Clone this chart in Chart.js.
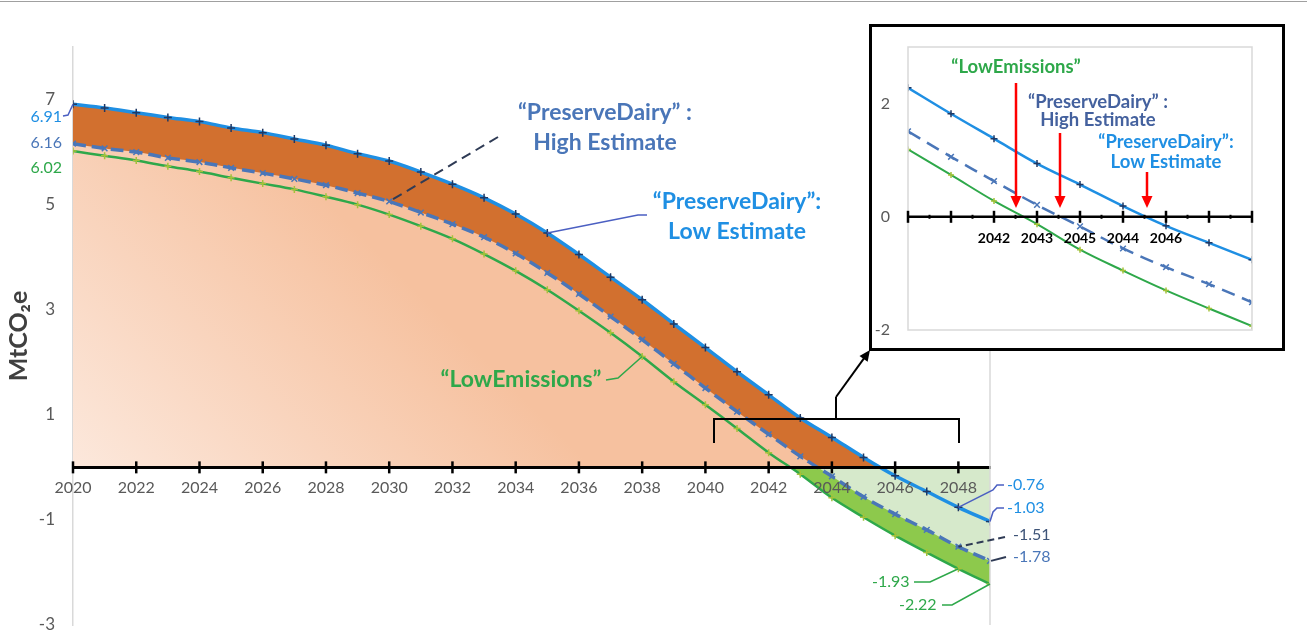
<!DOCTYPE html>
<html>
<head>
<meta charset="utf-8">
<script src="https://cdn.jsdelivr.net/npm/chart.js@4"></script>
<style>
  body { margin: 0; background: #fff; }
  #wrap { position: relative; width: 1307px; height: 644px; overflow: hidden; }
  #main { position: absolute; left: 0; top: 0; }
  #topline { position: absolute; left: 0; top: 1px; width: 1307px; height: 1px; background: #a0a0a0; }
  #insetBox { position: absolute; left: 869px; top: 24px; width: 410px; height: 321px; border: 3px solid #000; background: #fff; }
  #inset { display: block; }
</style>
</head>
<body>
<div id="wrap">
  <canvas id="main" width="1307" height="644"></canvas>
  <div id="topline"></div>
  <div id="insetBox"><canvas id="inset" width="410" height="321"></canvas></div>
</div>
<script>
// years on the x axis
const years = [2020, 2021, 2022, 2023, 2024, 2025, 2026, 2027, 2028, 2029,
               2030, 2031, 2032, 2033, 2034, 2035, 2036, 2037, 2038, 2039,
               2040, 2041, 2042, 2043, 2044, 2045, 2046, 2047, 2048, 2049];
// "PreserveDairy": Low Estimate (top, solid light blue)
const lowEstimate = [6.91, 6.84, 6.75, 6.66, 6.58, 6.46, 6.37, 6.25, 6.13, 5.97,
                     5.83, 5.62, 5.39, 5.13, 4.82, 4.46, 4.05, 3.62, 3.19, 2.73,
                     2.28, 1.82, 1.38, 0.94, 0.57, 0.19, -0.16, -0.46, -0.76, -1.03];
// "PreserveDairy" : High Estimate (middle, dashed)
const highEstimate = [6.16, 6.07, 6.00, 5.89, 5.81, 5.70, 5.60, 5.49, 5.37, 5.22,
                      5.06, 4.85, 4.63, 4.38, 4.07, 3.70, 3.30, 2.87, 2.43, 1.97,
                      1.51, 1.06, 0.63, 0.21, -0.17, -0.56, -0.89, -1.19, -1.51, -1.78];
// "LowEmissions" (bottom, green)
const lowEmissions = [6.02, 5.93, 5.84, 5.73, 5.63, 5.51, 5.40, 5.29, 5.15, 5.00,
                      4.81, 4.59, 4.35, 4.06, 3.74, 3.38, 2.98, 2.56, 2.11, 1.63,
                      1.19, 0.74, 0.28, -0.13, -0.58, -0.95, -1.30, -1.62, -1.93, -2.22];

const xTicks = [2020, 2022, 2024, 2026, 2028, 2030, 2032, 2034, 2036, 2038, 2040, 2042, 2044, 2046, 2048];
const yTicks = [-3, -1, 1, 3, 5, 7];

// inset (zoom on 2040-2048)
const insetFrom = 2040, insetTo = 2048;
const insetXTicks = [2040, 2041, 2042, 2043, 2044, 2045, 2046, 2047, 2048];
const insetXLabels = ['', '', '2042', '2043', '2045', '2044', '2046', '', ''];
const insetYTicks = [-2, 0, 2];

const FONT = 'Lato, "Open Sans", "Liberation Sans", sans-serif';
const skyBlue = '#1f8fe3';
const steel = '#4a76b8';
const green = '#2ea84a';
const darkOrange = '#d2702f';
const lightGreen = '#d6e9cb';
const brightGreen = '#8dc94c';
const leaderBlue = '#4b5fc2';

function pairs(xs, ys) {
  return xs.map((x, i) => ({ x: x, y: ys[i] }));
}

function slice(ys) {
  const out = [];
  years.forEach((yr, i) => { if (yr >= insetFrom && yr <= insetTo) out.push({ x: yr, y: ys[i] }); });
  return out;
}

function polyline(ctx, pts, color, width, dash) {
  ctx.save();
  ctx.strokeStyle = color;
  ctx.lineWidth = width;
  ctx.setLineDash(dash || []);
  ctx.beginPath();
  pts.forEach((p, i) => i ? ctx.lineTo(p[0], p[1]) : ctx.moveTo(p[0], p[1]));
  ctx.stroke();
  ctx.restore();
}

function arrow(ctx, x1, y1, x2, y2, color, width, head, half) {
  const ang = Math.atan2(y2 - y1, x2 - x1);
  polyline(ctx, [[x1, y1], [x2 - Math.cos(ang) * head * 0.8, y2 - Math.sin(ang) * head * 0.8]], color, width);
  ctx.save();
  ctx.fillStyle = color;
  ctx.beginPath();
  ctx.moveTo(x2, y2);
  ctx.lineTo(x2 - head * Math.cos(ang) + half * Math.sin(ang), y2 - head * Math.sin(ang) - half * Math.cos(ang));
  ctx.lineTo(x2 - head * Math.cos(ang) - half * Math.sin(ang), y2 - head * Math.sin(ang) + half * Math.cos(ang));
  ctx.closePath();
  ctx.fill();
  ctx.restore();
}

function text(ctx, str, x, y, color, size, bold, align) {
  ctx.save();
  ctx.fillStyle = color;
  ctx.font = (bold ? '700 ' : '400 ') + size + 'px ' + FONT;
  ctx.textAlign = align || 'center';
  ctx.textBaseline = 'middle';
  ctx.fillText(str, x, y);
  ctx.restore();
}

// peach gradient under the curves
function peach(context) {
  const chart = context.chart;
  const area = chart.chartArea;
  if (!area) return '#f6c5a5';
  const y0 = chart.scales.y.getPixelForValue(0);
  const g = chart.ctx.createLinearGradient(area.left, y0, area.left + 260, y0 - 260);
  g.addColorStop(0, '#fce8dc');
  g.addColorStop(1, '#f6c19f');
  return g;
}

// no extra room for the edge tick labels
function noEdgePadding(s) {
  s.paddingTop = 0;
  s.paddingBottom = 0;
  s.paddingLeft = 0;
  s.paddingRight = 0;
}

const mainDecor = {
  id: 'mainDecor',
  afterDraw(chart) {
    const { ctx, chartArea: a, scales: { x, y } } = chart;
    const px = v => x.getPixelForValue(v);
    const py = v => y.getPixelForValue(v);
    const y0 = py(0);

    // right frame line
    polyline(ctx, [[a.right, a.top], [a.right, a.bottom]], '#d9d9d9', 1.5);
    // tick marks crossing the zero axis
    xTicks.forEach(t => polyline(ctx, [[px(t), y0 - 6], [px(t), y0 + 6]], '#000', 2.5));

    // end values, left side
    text(ctx, '6.91', 62, 117, skyBlue, 16, false, 'right');
    polyline(ctx, [[63, 116], [68, 115], [px(2020), py(lowEstimate[0])]], leaderBlue, 1.5);
    text(ctx, '6.16', 62, 143, steel, 16, false, 'right');
    text(ctx, '6.02', 62, 168, green, 16, false, 'right');

    // end values, right side
    const n = years.length - 1;
    text(ctx, '-0.76', 1007, 485, skyBlue, 16, false, 'left');
    polyline(ctx, [[1004, 485], [997, 485], [993, 490], [px(2048), py(lowEstimate[n - 1])]], leaderBlue, 1.5);
    text(ctx, '-1.03', 1007, 508, skyBlue, 16, false, 'left');
    polyline(ctx, [[1004, 508], [997, 508], [993, 512], [px(2049), py(lowEstimate[n])]], leaderBlue, 1.5);
    text(ctx, '-1.51', 1013, 535, '#3e5478', 16, false, 'left');
    polyline(ctx, [[1005, 537], [px(2048), py(highEstimate[n - 1])]], '#2f3b55', 2, [7, 4]);
    text(ctx, '-1.78', 1013, 557, steel, 16, false, 'left');
    polyline(ctx, [[1006, 557], [px(2049) + 1, py(highEstimate[n])]], '#2f3b55', 2);
    text(ctx, '-1.93', 872, 582, green, 16, false, 'left');
    polyline(ctx, [[914, 582], [930, 582], [px(2048), py(lowEmissions[n - 1])]], green, 1.5);
    text(ctx, '-2.22', 899, 605, green, 16, false, 'left');
    polyline(ctx, [[942, 605], [952, 605], [px(2049), py(lowEmissions[n])]], green, 1.5);

    // series labels
    text(ctx, '\u201cPreserveDairy\u201d :', 605, 113, steel, 23, true);
    text(ctx, 'High Estimate', 605, 143, steel, 23, true);
    polyline(ctx, [[498, 137], [px(2030), py(highEstimate[10])]], '#2f3b55', 2, [10, 6]);

    text(ctx, '\u201cPreserveDairy\u201d:', 737, 202, skyBlue, 23, true);
    text(ctx, 'Low Estimate', 737, 232, skyBlue, 23, true);
    polyline(ctx, [[647, 215], [638, 215], [px(2035), py(lowEstimate[15])]], leaderBlue, 1.5);

    text(ctx, '\u201cLowEmissions\u201d', 521, 380, green, 23, true);
    polyline(ctx, [[606, 380], [618, 378], [px(2038), py(lowEmissions[18])]], green, 1.5);

    // bracket and arrow to the inset
    polyline(ctx, [[714, 443], [714, 419], [959, 419], [959, 443]], '#000', 2);
    polyline(ctx, [[836, 419], [836, 397]], '#000', 2);
    arrow(ctx, 836, 397, 870, 350, '#000', 2, 11, 5);
  }
};

new Chart(document.getElementById('main'), {
  type: 'line',
  data: {
    datasets: [
      {
        label: '"PreserveDairy" : High Estimate',
        data: pairs(years, highEstimate),
        borderColor: steel,
        borderWidth: 3.5,
        borderDash: [13, 6],
        backgroundColor: peach,
        fill: { target: 'origin', below: lightGreen },
        pointStyle: 'crossRot',
        pointRadius: 4,
        pointBorderColor: steel,
        pointBorderWidth: 1.5,
        tension: 0.35
      },
      {
        label: '"PreserveDairy": Low Estimate',
        data: pairs(years, lowEstimate),
        borderColor: skyBlue,
        borderWidth: 3.5,
        backgroundColor: darkOrange,
        fill: { target: 'origin', above: darkOrange, below: lightGreen },
        pointStyle: 'cross',
        pointRadius: 4,
        pointBorderColor: '#1f3864',
        pointBorderWidth: 1.5,
        tension: 0.35
      },
      {
        label: '"LowEmissions"',
        data: pairs(years, lowEmissions),
        borderColor: green,
        borderWidth: 2.5,
        backgroundColor: brightGreen,
        fill: { target: 'origin', above: 'rgba(0,0,0,0)', below: brightGreen },
        pointStyle: 'cross',
        pointRadius: 3.5,
        pointBorderColor: '#a4c23a',
        pointBorderWidth: 1.5,
        tension: 0.35
      }
    ]
  },
  options: {
    responsive: false,
    animation: false,
    layout: { padding: { top: 47, right: 317, bottom: 19, left: 0 } },
    plugins: {
      legend: { display: false },
      tooltip: { enabled: false },
      filler: { drawTime: 'beforeDatasetsDraw' }
    },
    scales: {
      x: {
        type: 'linear',
        min: 2020,
        max: 2049,
        position: { y: 0 },
        afterBuildTicks: s => { s.ticks = xTicks.map(v => ({ value: v })); },
        afterFit: noEdgePadding,
        ticks: { z: 1, callback: v => String(v), color: '#595959', font: { family: FONT, size: 16 }, padding: 11, maxRotation: 0, autoSkip: false },
        grid: { display: false, drawTicks: false },
        border: { z: 1, color: '#000', width: 3 }
      },
      y: {
        min: -3,
        max: 8,
        afterBuildTicks: s => { s.ticks = yTicks.map(v => ({ value: v })); },
        afterFit: s => { s.width = 73; noEdgePadding(s); },
        ticks: { color: '#595959', font: { family: FONT, size: 17 }, padding: 18 },
        grid: { display: false, drawTicks: false },
        border: { color: '#d9d9d9', width: 1.5 },
        title: { display: true, text: 'MtCO\u2082e', color: '#404040', font: { family: FONT, size: 25, weight: '700' }, padding: { top: 4, bottom: 0 } }
      }
    }
  },
  plugins: [mainDecor]
});

const insetDecor = {
  id: 'insetDecor',
  afterDraw(chart) {
    const { ctx, chartArea: a, scales: { x, y } } = chart;
    const y0 = y.getPixelForValue(0);
    ctx.save();
    ctx.strokeStyle = '#d9d9d9';
    ctx.lineWidth = 1.5;
    ctx.strokeRect(a.left, a.top, a.right - a.left, a.bottom - a.top);
    ctx.restore();
    polyline(ctx, [[a.left, y0], [a.right, y0]], '#000', 2.5);
    insetXTicks.forEach(t => {
      const p = x.getPixelForValue(t);
      polyline(ctx, [[p, y0 - 6], [p, y0 + 6]], '#000', 2.5);
      if (t < insetTo) {
        const m = x.getPixelForValue(t + 0.5);
        polyline(ctx, [[m, y0 - 2], [m, y0 + 2]], '#000', 2);
      }
    });

    text(ctx, '\u201cLowEmissions\u201d', 144, 40, green, 18.5, true);
    text(ctx, '\u201cPreserveDairy\u201d :', 226, 75, '#44619e', 18.5, true);
    text(ctx, 'High Estimate', 226, 93, '#44619e', 18.5, true);
    text(ctx, '\u201cPreserveDairy\u201d:', 294, 115, skyBlue, 18.5, true);
    text(ctx, 'Low Estimate', 294, 135, skyBlue, 18.5, true);

    arrow(ctx, 144, 56, 144, 181, '#ff0000', 2.5, 12, 5.5);
    arrow(ctx, 188, 106, 188, 181, '#ff0000', 2.5, 12, 5.5);
    arrow(ctx, 275, 145, 275, 181, '#ff0000', 2.5, 12, 5.5);
  }
};

new Chart(document.getElementById('inset'), {
  type: 'line',
  data: {
    datasets: [
      {
        data: slice(highEstimate),
        borderColor: steel,
        borderWidth: 2.5,
        borderDash: [14, 8],
        pointStyle: 'crossRot',
        pointRadius: 4,
        pointBorderColor: steel,
        pointBorderWidth: 1.5,
        fill: false,
        tension: 0.35
      },
      {
        data: slice(lowEstimate),
        borderColor: skyBlue,
        borderWidth: 2.5,
        pointStyle: 'cross',
        pointRadius: 3.5,
        pointBorderColor: '#1f3864',
        pointBorderWidth: 1.5,
        fill: false,
        tension: 0.35
      },
      {
        data: slice(lowEmissions),
        borderColor: green,
        borderWidth: 2,
        pointStyle: 'cross',
        pointRadius: 3,
        pointBorderColor: '#a4c23a',
        pointBorderWidth: 1.5,
        fill: false,
        tension: 0.35
      }
    ]
  },
  options: {
    responsive: false,
    animation: false,
    layout: { padding: { top: 20, right: 30, bottom: 18, left: 0 } },
    plugins: { legend: { display: false }, tooltip: { enabled: false } },
    scales: {
      x: {
        type: 'linear',
        min: insetFrom,
        max: insetTo,
        position: { y: 0 },
        afterBuildTicks: s => { s.ticks = insetXTicks.map(v => ({ value: v })); },
        afterFit: noEdgePadding,
        ticks: { z: 1, callback: (v, i) => insetXLabels[i], color: '#000', font: { family: FONT, size: 14, weight: '700' }, padding: 13, maxRotation: 0, autoSkip: false },
        grid: { display: false, drawTicks: false },
        border: { display: false }
      },
      y: {
        min: -2,
        max: 3,
        afterBuildTicks: s => { s.ticks = insetYTicks.map(v => ({ value: v })); },
        afterFit: s => { s.width = 36; noEdgePadding(s); },
        ticks: { color: '#595959', font: { family: FONT, size: 16 }, padding: 18 },
        grid: { display: false, drawTicks: false },
        border: { display: false }
      }
    }
  },
  plugins: [insetDecor]
});
</script>
</body>
</html>
